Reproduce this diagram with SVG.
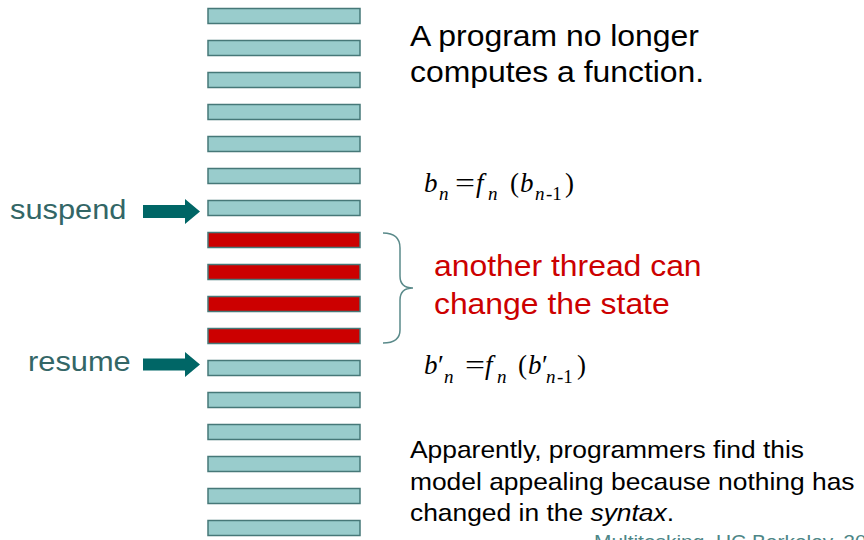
<svg xmlns="http://www.w3.org/2000/svg" width="864" height="540" viewBox="0 0 864 540">
<style>
.bar{fill:#99CCCC;stroke:#467878;stroke-width:1.5}
.red{fill:#CC0000;stroke:#467878;stroke-width:1.5}
.arrow{fill:#006666}
.brace{fill:none;stroke:#5a8a8a;stroke-width:1.5}
.t{font-family:"Liberation Sans",Arial,sans-serif}
.big{font-size:29px;fill:#000}
.redt{font-size:29px;fill:#CC0000}
.lab{font-size:28px;fill:#336666}
.small{font-size:24px;fill:#000}
.foot{font-size:19px;fill:#4d8686}
.m{font-family:"Liberation Serif","Times New Roman",serif;font-size:27px;fill:#000}
.mi{font-family:"Liberation Serif","Times New Roman",serif;font-size:27px;font-style:italic;fill:#000}
.si{font-family:"Liberation Serif","Times New Roman",serif;font-size:19px;font-style:italic;fill:#000}
.s{font-family:"Liberation Serif","Times New Roman",serif;font-size:19px;fill:#000}
</style>
<rect width="864" height="540" fill="#ffffff"/>
<g id="bars">
<rect id="bar1" class="bar" x="208" y="8.5" width="152" height="15"/>
<rect id="bar2" class="bar" x="208" y="40.5" width="152" height="15"/>
<rect id="bar3" class="bar" x="208" y="72.5" width="152" height="15"/>
<rect id="bar4" class="bar" x="208" y="104.5" width="152" height="15"/>
<rect id="bar5" class="bar" x="208" y="136.5" width="152" height="15"/>
<rect id="bar6" class="bar" x="208" y="168.5" width="152" height="15"/>
<rect id="bar7" class="bar" x="208" y="200.5" width="152" height="15"/>
<rect id="bar8" class="red" x="208" y="232.5" width="152" height="15"/>
<rect id="bar9" class="red" x="208" y="264.5" width="152" height="15"/>
<rect id="bar10" class="red" x="208" y="296.5" width="152" height="15"/>
<rect id="bar11" class="red" x="208" y="328.5" width="152" height="15"/>
<rect id="bar12" class="bar" x="208" y="360.5" width="152" height="15"/>
<rect id="bar13" class="bar" x="208" y="392.5" width="152" height="15"/>
<rect id="bar14" class="bar" x="208" y="424.5" width="152" height="15"/>
<rect id="bar15" class="bar" x="208" y="456.5" width="152" height="15"/>
<rect id="bar16" class="bar" x="208" y="488.5" width="152" height="15"/>
<rect id="bar17" class="bar" x="208" y="520.5" width="152" height="15"/>
</g>
<g id="connectors">
<polygon id="arrow-suspend" class="arrow" points="143,205 185,205 185,199 200,211.5 185,224 185,218 143,218"/>
<polygon id="arrow-resume" class="arrow" points="143,358.5 185,358.5 185,352 200,364.5 185,377 185,370.5 143,370.5"/>
<path id="brace" class="brace" d="M383,233 C394,233 400,238 400,248 L400,276 C400,284 405,288 413,288 C405,288 400,292 400,300 L400,330 C400,339 394,343 383,343"/>
</g>
<g id="labels" transform="scale(1.1 1)">
<text class="t lab" x="9.1" y="219">suspend</text>
<text class="t lab" x="25.5" y="371">resume</text>
<text class="t big" x="372.7" y="46">A program no longer</text>
<text class="t big" x="372.7" y="82">computes a function.</text>
<text class="t redt" x="394.5" y="276">another thread can</text>
<text class="t redt" x="394.5" y="314">change the state</text>
<text class="t small" x="372.7" y="458">Apparently, programmers find this</text>
<text class="t small" x="372.7" y="490">model appealing because nothing has</text>
<text class="t small" x="372.7" y="521">changed in the <tspan font-style="italic">syntax</tspan>.</text>
<text class="t foot" x="540" y="548">Multitasking, UC Berkeley, 20</text>
</g>
<g id="eq1">
<text class="mi" x="424" y="192">b</text>
<text class="si" x="439" y="200">n</text>
<text class="m" x="455" y="192" textLength="20" lengthAdjust="spacingAndGlyphs">=</text>
<text class="mi" x="476" y="192">f</text>
<text class="si" x="488" y="200">n</text>
<text class="m" x="510" y="192">(</text>
<text class="mi" x="520" y="192">b</text>
<text class="si" x="535" y="200">n</text>
<text class="s" x="546" y="200">-1</text>
<text class="m" x="565" y="192">)</text>
</g>
<g id="eq2">
<text class="mi" x="424" y="374">b</text>
<text class="m" x="438" y="374">′</text>
<text class="si" x="444" y="383">n</text>
<text class="m" x="465" y="374" textLength="20" lengthAdjust="spacingAndGlyphs">=</text>
<text class="mi" x="485" y="374">f</text>
<text class="si" x="497" y="383">n</text>
<text class="m" x="518" y="374">(</text>
<text class="mi" x="528" y="374">b</text>
<text class="m" x="542" y="374">′</text>
<text class="si" x="546" y="383">n</text>
<text class="s" x="557" y="383">-1</text>
<text class="m" x="577" y="374">)</text>
</g>
</svg>
